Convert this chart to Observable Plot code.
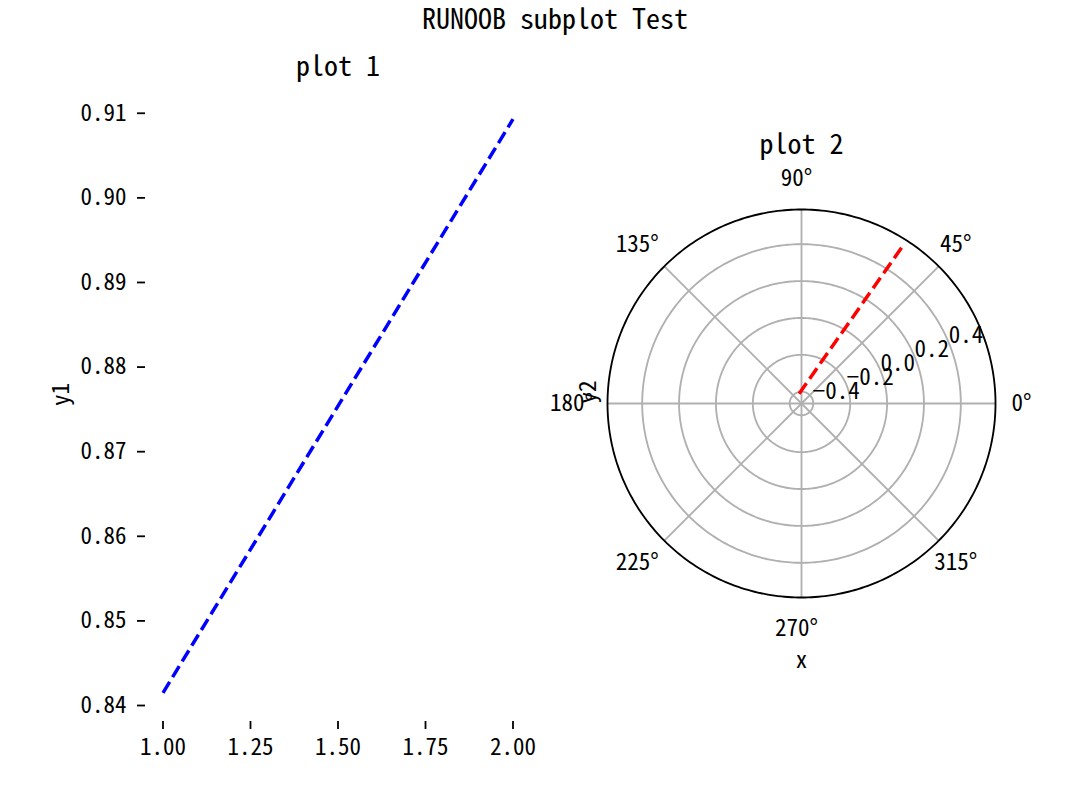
<!DOCTYPE html>
<html>
<head>
<meta charset="utf-8">
<script src="https://cdn.jsdelivr.net/npm/d3@7"></script>
<script src="https://cdn.jsdelivr.net/npm/@observablehq/plot@0.6"></script>
<style>
  body { margin: 0; background: #fff; }
  #fig { position: relative; width: 1067px; height: 785px;
         font-family: "Noto Sans Mono CJK SC", "Noto Sans CJK SC", sans-serif; color: #000; }
  #fig svg { position: absolute; left: 0; top: 0; }
  #sup { position: absolute; left: 555px; top: 3px; transform: translateX(-50%);
         font-size: 28px; line-height: 28px; white-space: nowrap; }
</style>
</head>
<body>
<div id="fig"><div id="sup"></div></div>
<script>
// ---- data ----
const xValues = [1, 2];
const y1Values = [0.8415, 0.9093];
const y2Values = [0.5403, -0.4161];
const xTicks = [1.00, 1.25, 1.50, 1.75, 2.00];
const y1Ticks = [0.84, 0.85, 0.86, 0.87, 0.88, 0.89, 0.90, 0.91];
const thetaTicks = [0, 45, 90, 135, 180, 225, 270, 315];
const rTicks = [-0.4, -0.2, 0.0, 0.2, 0.4];
const supTitle = "RUNOOB subplot Test";
const title1 = "plot 1";
const title2 = "plot 2";
const y1Label = "y1";
const xLabel2 = "x";
const y2Label = "y2";

// ---- layout ----
const FONT = '"Noto Sans Mono CJK SC", "Noto Sans CJK SC", sans-serif';
const W = 1067, H = 785;
const fmt2 = d3.format(".2f");
const fmt1 = d => d3.format(".1f")(d).replace("-", "\u2212");
const margin = (lo, hi) => { const p = (hi - lo) * 0.05; return [lo - p, hi + p]; };

document.getElementById("sup").textContent = supTitle;
const fig = document.getElementById("fig");

// ---- left subplot ----
const line1 = xValues.map((x, i) => ({x, y: y1Values[i]}));
const left = Plot.plot({
  width: W, height: H,
  marginLeft: 145, marginRight: W - 530, marginTop: 90, marginBottom: H - 721,
  style: {background: "transparent", overflow: "visible", fontFamily: FONT, fontSize: "23px", color: "#000"},
  x: {domain: margin(d3.min(xValues), d3.max(xValues))},
  y: {domain: margin(d3.min(y1Values), d3.max(y1Values))},
  marks: [
    Plot.axisX({ticks: xTicks, tickFormat: fmt2, tickSize: 8, tickPadding: 9, strokeWidth: 1.8, label: null, fontSize: 23}),
    Plot.axisY({ticks: y1Ticks, tickFormat: fmt2, tickSize: 8, tickPadding: 11, strokeWidth: 1.8, label: null, fontSize: 23}),
    Plot.line(line1, {x: "x", y: "y", stroke: "#0000ff", strokeWidth: 3.5,
      strokeDasharray: "12.8,5.6", strokeLinecap: "butt"}),
    Plot.text([title1], {frameAnchor: "top", dy: -23, text: d => d, fontSize: 28, lineAnchor: "middle"}),
    Plot.text([y1Label], {frameAnchor: "left", dx: -84, rotate: -90, text: d => d, fontSize: 23})
  ]
});
fig.appendChild(left);

// ---- right subplot (polar) ----
const [rMin, rMax] = margin(d3.min(y2Values), d3.max(y2Values));
const R = rMax - rMin;
const rad = a => a * Math.PI / 180;
const px = (t, r) => (r - rMin) * Math.cos(t);
const py = (t, r) => (r - rMin) * Math.sin(t);
const angles = d3.range(0, 361, 1);
const rings = rTicks.flatMap(r => angles.map(a => ({r, x: px(rad(a), r), y: py(rad(a), r)})));
const outline = angles.map(a => ({x: px(rad(a), rMax), y: py(rad(a), rMax)}));
const spokes = thetaTicks.map(a => ({x2: px(rad(a), rMax), y2: py(rad(a), rMax)}));
const line2 = xValues.map((t, i) => ({x: px(t, y2Values[i]), y: py(t, y2Values[i])}));
const rLabels = rTicks.map(r => ({x: px(rad(22.5), r), y: py(rad(22.5), r), t: fmt1(r)}));
const thetaLabelR = rMax + 0.16 * R;
const thetaLabels = thetaTicks.map(a => ({x: px(rad(a), thetaLabelR), y: py(rad(a), thetaLabelR), t: a + "°"}));

const right = Plot.plot({
  width: W, height: H,
  marginLeft: 607, marginRight: W - 995, marginTop: 209, marginBottom: H - 597,
  style: {background: "transparent", overflow: "visible", fontFamily: FONT, fontSize: "23px", color: "#000"},
  x: {domain: [-R, R], axis: null},
  y: {domain: [-R, R], axis: null},
  marks: [
    Plot.line(rings, {x: "x", y: "y", z: "r", stroke: "#b0b0b0", strokeWidth: 1.85}),
    Plot.link(spokes, {x1: 0, y1: 0, x2: "x2", y2: "y2", stroke: "#b0b0b0", strokeWidth: 1.85}),
    Plot.line(outline, {x: "x", y: "y", stroke: "#000", strokeWidth: 1.85}),
    Plot.line(line2, {x: "x", y: "y", stroke: "#ff0000", strokeWidth: 3.5,
      strokeDasharray: "12.8,5.6", strokeLinecap: "butt"}),
    Plot.text(rLabels, {x: "x", y: "y", text: "t", textAnchor: "start", lineAnchor: "bottom", fontSize: 23}),
    Plot.text(thetaLabels, {x: "x", y: "y", text: "t", dx: -5, fontSize: 23}),
    Plot.text([title2], {frameAnchor: "top", dy: -64, text: d => d, fontSize: 28, lineAnchor: "middle"}),
    Plot.text([xLabel2], {frameAnchor: "bottom", dy: 70, text: d => d, fontSize: 23}),
    Plot.text([y2Label], {frameAnchor: "left", dx: -19, rotate: -90, text: d => d, fontSize: 23})
  ]
});
fig.appendChild(right);
</script>
</body>
</html>
